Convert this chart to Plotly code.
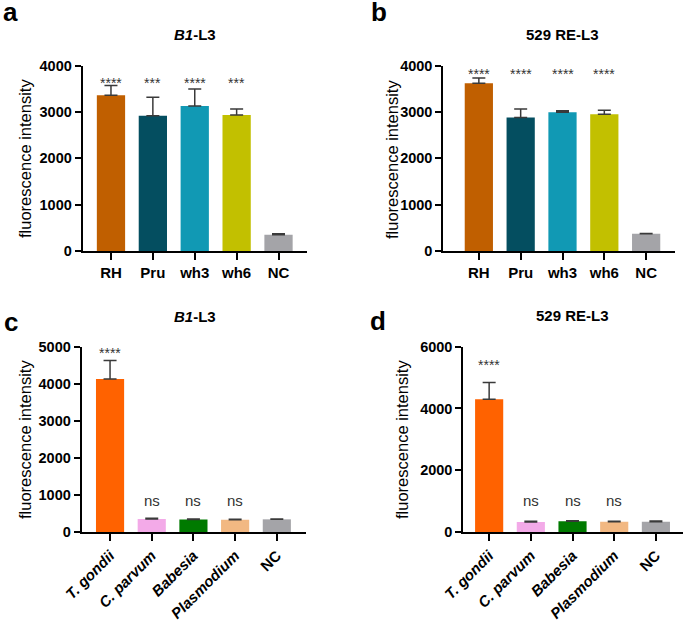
import plotly.graph_objects as go

# ---------------- data ----------------
strains = ["RH", "Pru", "wh3", "wh6", "NC"]
strain_colors = ["#C05F00", "#044E60", "#1199B4", "#C2C000", "#A4A4A8"]
a_values = [3360, 2920, 3130, 2935, 350]
a_errors = [210, 400, 365, 130, 20]
a_sig = ["****", "***", "****", "***", ""]

b_values = [3620, 2880, 2995, 2950, 370]
b_errors = [115, 187, 30, 86, 10]
b_sig = ["****", "****", "****", "****", ""]

species = ["T. gondii", "C. parvum", "Babesia", "Plasmodium", "NC"]
species_ticktext = ["<i>T. gondii</i>", "<i>C. parvum</i>", "<i>Babesia</i>", "<i>Plasmodium</i>", "NC"]
species_colors = ["#FF6200", "#F3AAE8", "#007A00", "#F2B882", "#A4A4A8"]
c_values = [4130, 350, 335, 333, 342]
c_errors = [495, 18, 16, 12, 12]
c_sig = ["****", "ns", "ns", "ns", ""]

d_values = [4300, 325, 345, 335, 335]
d_errors = [540, 20, 20, 16, 18]
d_sig = ["****", "ns", "ns", "ns", ""]

W, H = 685, 620
FONT = "Liberation Sans, Arial, sans-serif"
ERRC = "#3A3A3A"

fig = go.Figure()

panels = [
    dict(ax="", cats=strains, tt=strains, col=strain_colors, v=a_values, e=a_errors, s=a_sig,
         xd=(82.7, 307), xr=[-0.675, 4.68], ytop=4000, dt=1000, yd=(251, 65.7), star=3616, ns=None, ang=0),
    dict(ax="2", cats=strains, tt=strains, col=strain_colors, v=b_values, e=b_errors, s=b_sig,
         xd=(443.3, 675), xr=[-0.85, 4.69], ytop=4000, dt=1000, yd=(251, 65.7), star=3827, ns=None, ang=0),
    dict(ax="3", cats=species, tt=species_ticktext, col=species_colors, v=c_values, e=c_errors, s=c_sig,
         xd=(81.7, 306), xr=[-0.68, 4.70], ytop=5000, dt=1000, yd=(532, 346.7), star=4830, ns=863, ang=-45),
    dict(ax="4", cats=species, tt=species_ticktext, col=species_colors, v=d_values, e=d_errors, s=d_sig,
         xd=(463.3, 683), xr=[-0.62, 4.65], ytop=6000, dt=2000, yd=(532, 346.7), star=5417, ns=1036, ang=-45),
]

annotations = []
for p in panels:
    xa = "x" + p["ax"]
    ya = "y" + p["ax"]
    fig.add_trace(go.Bar(
        x=p["cats"], y=p["v"], xaxis=xa, yaxis=ya,
        marker=dict(color=p["col"], line=dict(width=0)),
        width=0.675,
        error_y=dict(type="data", symmetric=False, array=p["e"],
                     arrayminus=[0] * len(p["e"]), color=ERRC, thickness=1.5, width=6.5),
        showlegend=False,
    ))
    xkey = "xaxis" + p["ax"]
    ykey = "yaxis" + p["ax"]
    fig.update_layout(**{
        xkey: dict(domain=[p["xd"][0] / W, p["xd"][1] / W], range=p["xr"], anchor=ya,
                   showline=True, linecolor="black", linewidth=2, ticks="outside", ticklen=7,
                   tickwidth=2, tickcolor="black", showgrid=False, zeroline=False,
                   tickmode="array", tickvals=p["cats"], ticktext=p["tt"], tickangle=p["ang"],
                   tickfont=dict(family=FONT, size=15, color="black", weight="bold"),
                   automargin=False, fixedrange=True),
        ykey: dict(domain=[1 - p["yd"][0] / H, 1 - p["yd"][1] / H], range=[0, p["ytop"]], anchor=xa,
                   showline=True, linecolor="black", linewidth=2, ticks="outside", ticklen=6,
                   tickwidth=2, tickcolor="black", showgrid=False, zeroline=False,
                   dtick=p["dt"], tick0=0,
                   tickfont=dict(family=FONT, size=14.5, color="black", weight="bold"),
                   automargin=False, fixedrange=True),
    })
    for cat, lab in zip(p["cats"], p["s"]):
        if not lab:
            continue
        yv = p["star"] if lab.startswith("*") else p["ns"]
        annotations.append(dict(
            x=cat, y=yv, xref=xa, yref=ya, text=lab, showarrow=False,
            xanchor="center", yanchor="middle",
            font=dict(family=FONT, size=14 if lab.startswith("*") else 15, color="#333333"),
        ))


def pa(text, px, py, size, bold=False, angle=0, xanchor="center"):
    t = "<b>" + text + "</b>" if bold else text
    annotations.append(dict(
        x=px / W, y=1 - py / H, xref="paper", yref="paper", text=t, showarrow=False,
        xanchor=xanchor, yanchor="middle", textangle=angle,
        font=dict(family=FONT, size=size, color="black"),
    ))


# panel letters
pa("a", 0.5, 11.5, 26, bold=True, xanchor="left")
pa("b", 369, 12, 26, bold=True, xanchor="left")
pa("c", 2, 321.5, 26, bold=True, xanchor="left")
pa("d", 368, 321, 26, bold=True, xanchor="left")

# panel titles
pa("<i>B1</i>-L3", 195, 34.5, 15, bold=True)
pa("529 RE-L3", 562, 34.5, 15, bold=True)
pa("<i>B1</i>-L3", 195, 316, 15, bold=True)
pa("529 RE-L3", 572, 315, 15, bold=True)

# y-axis titles
pa("fluorescence intensity", 25, 159, 16.5, angle=-90)
pa("fluorescence intensity", 392, 159, 16.5, angle=-90)
pa("fluorescence intensity", 25, 440, 16.5, angle=-90)
pa("fluorescence intensity", 402, 440, 16.5, angle=-90)

fig.update_layout(
    width=W, height=H,
    margin=dict(l=0, r=0, t=0, b=0, autoexpand=False),
    paper_bgcolor="white", plot_bgcolor="white",
    bargap=0.3,
    annotations=annotations,
    font=dict(family=FONT, color="black"),
)

fig.write_html(
    "out.html",
    config={"displayModeBar": False},
    post_script="document.body.style.margin='0px';document.body.style.overflow='hidden';",
)
